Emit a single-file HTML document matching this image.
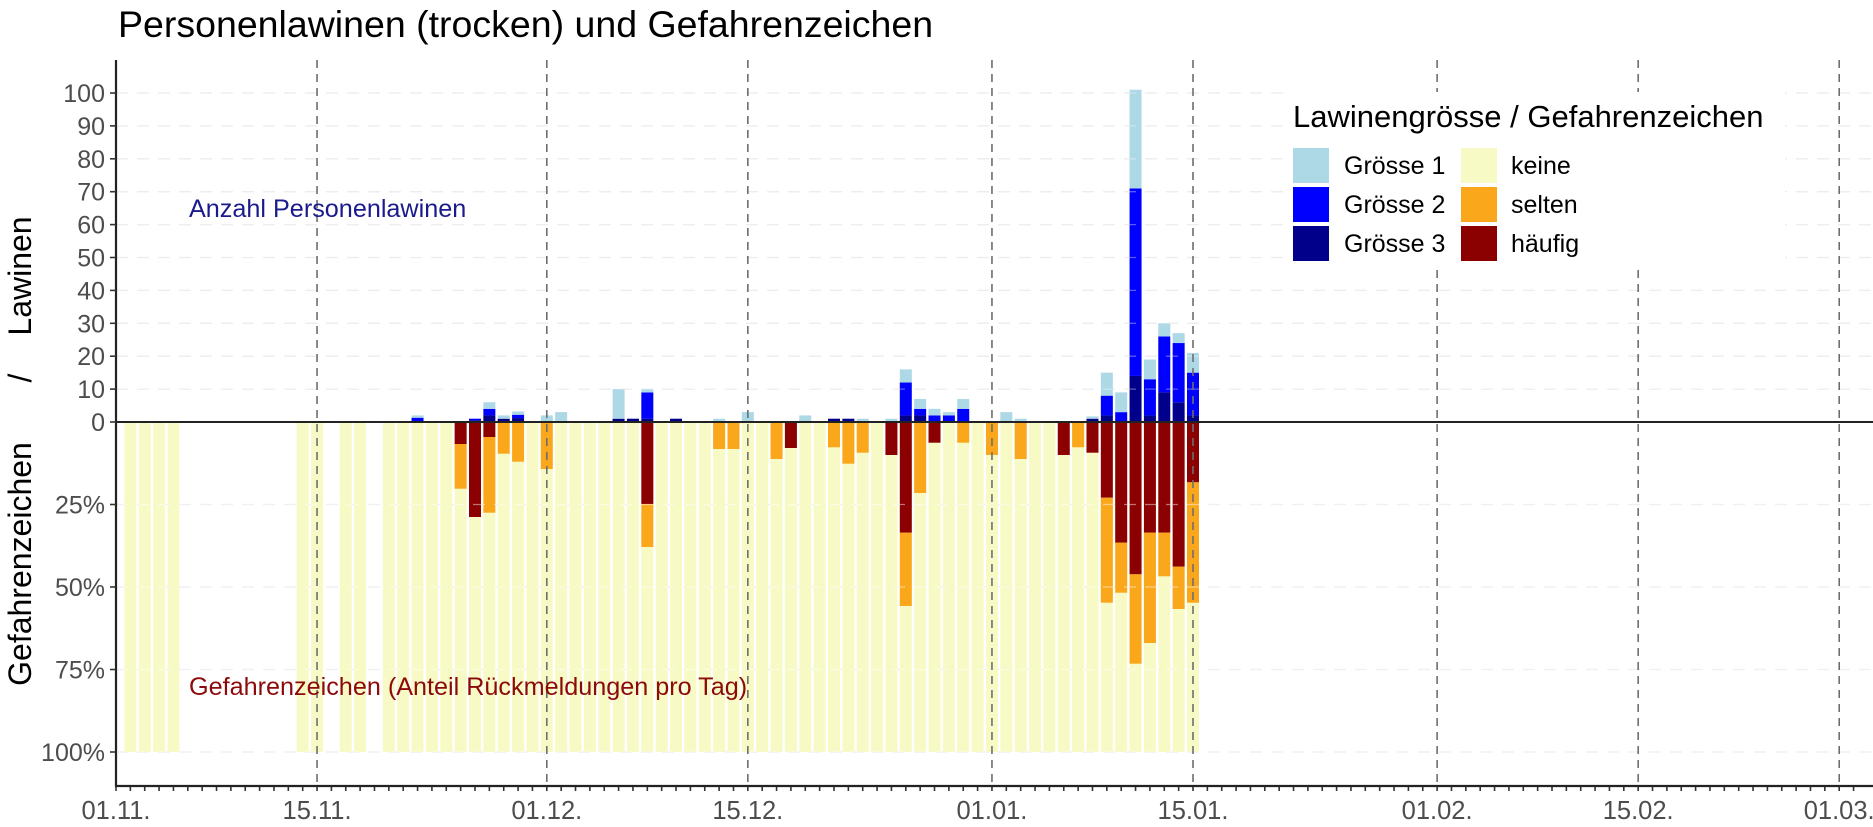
<!DOCTYPE html>
<html><head><meta charset="utf-8"><style>
html,body{margin:0;padding:0;background:#fff;}
svg{display:block;font-family:"Liberation Sans",Arial,sans-serif;}
</style></head><body>
<svg id="c" width="1873" height="827" viewBox="0 0 1873 827" xmlns="http://www.w3.org/2000/svg">
<g id="grid"></g>
<g id="bars"></g>
<g id="over"></g>
<text x="118" y="37" font-size="37.5" fill="#000">Personenlawinen (trocken) und Gefahrenzeichen</text>
<text x="189" y="217" font-size="25.2" fill="#1a1a8c">Anzahl Personenlawinen</text>
<text x="189" y="695" font-size="25.2" fill="#8b0a0a">Gefahrenzeichen (Anteil Rückmeldungen pro Tag)</text>
<text transform="translate(31,564) rotate(-90)" text-anchor="middle" font-size="32" fill="#000">Gefahrenzeichen</text>
<text transform="translate(31,378) rotate(-90)" text-anchor="middle" font-size="32" fill="#000">/</text>
<text transform="translate(31,276) rotate(-90)" text-anchor="middle" font-size="32" fill="#000">Lawinen</text>
<rect x="1285" y="92" width="500" height="176" fill="#fff"/>
<text x="1293" y="127" font-size="31" fill="#000">Lawinengrösse / Gefahrenzeichen</text>
<rect x="1293" y="148" width="36" height="35" fill="#add8e6"/>
<rect x="1293" y="187" width="36" height="35" fill="#0000ff"/>
<rect x="1293" y="226" width="36" height="35" fill="#00008b"/>
<rect x="1461" y="148" width="36" height="35" fill="#f8fac6"/>
<rect x="1461" y="187" width="36" height="35" fill="#fba71c"/>
<rect x="1461" y="226" width="36" height="35" fill="#8b0000"/>
<text x="1344" y="174" font-size="25" fill="#000">Grösse 1</text>
<text x="1344" y="213" font-size="25" fill="#000">Grösse 2</text>
<text x="1344" y="252" font-size="25" fill="#000">Grösse 3</text>
<text x="1511" y="174" font-size="25" fill="#000">keine</text>
<text x="1511" y="213" font-size="25" fill="#000">selten</text>
<text x="1511" y="252" font-size="25" fill="#000">häufig</text>
</svg>
<script>
(function(){
var NS="http://www.w3.org/2000/svg";
function el(p,t,a,txt){var e=document.createElementNS(NS,t);for(var k in a)e.setAttribute(k,a[k]);if(txt!==undefined)e.textContent=txt;document.getElementById(p).appendChild(e);return e;}
var X0=116,PD=14.36,Z=422,U=3.29,P=3.3;
function xd(d){return X0+d*PD;}
for(var v=10;v<=100;v+=10){el("grid","line",{x1:X0,x2:1873,y1:Z-v*U,y2:Z-v*U,stroke:"#e3e3e3","stroke-width":1.3,"stroke-dasharray":"12 9"});}
[25,50,75,100].forEach(function(p){el("grid","line",{x1:X0,x2:1873,y1:Z+p*P,y2:Z+p*P,stroke:"#e3e3e3","stroke-width":1.3,"stroke-dasharray":"12 9"});});
var yd=[1,2,3,4,13,14,16,17];for(var d=19;d<=75;d++)yd.push(d);
yd.forEach(function(d){el("bars","rect",{x:xd(d)-6,y:Z,width:12,height:100*P,fill:"#f8fac6"});});
var neg={24:[444,488.7],25:[517,517],26:[437,512.7],27:[422,453.7],28:[422,461.7],30:[422,469],37:[504,547],42:[422,449],43:[422,449],46:[422,459],47:[448,448],50:[422,447.3],51:[422,463.7],52:[422,452.7],54:[455,455],55:[532.7,606],56:[422,493],57:[442.7,442.7],59:[422,442.7],61:[422,455],63:[422,459],66:[455,455],67:[422,447.3],68:[452.7,452.7],69:[497.7,602.7],70:[542.7,592.7],71:[574.3,663.7],72:[532.7,643],73:[532.7,576.3],74:[566.7,609],75:[482.3,602.7]};
for(var k in neg){var r=neg[k],x=xd(+k)-6;
 if(r[0]>Z)el("bars","rect",{x:x,y:Z,width:12,height:r[0]-Z,fill:"#8b0000"});
 if(r[1]>r[0])el("bars","rect",{x:x,y:r[0],width:12,height:r[1]-r[0],fill:"#fba71c"});}
var pos={21:[0.7,1.3,0],25:[0,0.5,0.5],26:[2,2,2],27:[1,0,1],28:[1,1,1.2],30:[2,0,0],31:[3,0,0],35:[9,0,1],36:[0,0,1],37:[1,8,1],39:[0,0,1],42:[1,0,0],44:[3,0,0],48:[2,0,0],50:[0,0,1],51:[0,0,1],52:[1,0,0],54:[1,0,0],55:[4,10,2],56:[3,2,2],57:[2,2,0],58:[1,2,0],59:[3,4,0],62:[3,0,0],63:[1,0,0],68:[0.7,0,1],69:[7,6,2],70:[6,3,0],71:[30,57,14],72:[6,11,2],73:[4,17,9],74:[3,18,6],75:[6,13,2]};
for(var k in pos){var p=pos[k],x=xd(+k)-6,y=Z;
 [[p[2],"#00008b"],[p[1],"#0000ff"],[p[0],"#add8e6"]].forEach(function(s){if(s[0]>0){var h=s[0]*U;el("bars","rect",{x:x,y:y-h,width:12,height:h,fill:s[1]});y-=h;}});}
for(var v=10;v<=100;v+=10){el("over","line",{x1:X0,x2:1873,y1:Z-v*U,y2:Z-v*U,stroke:"#ffffff","stroke-opacity":0.35,"stroke-width":1.3,"stroke-dasharray":"12 9"});}
[25,50,75,100].forEach(function(p){el("over","line",{x1:X0,x2:1873,y1:Z+p*P,y2:Z+p*P,stroke:"#ffffff","stroke-opacity":0.45,"stroke-width":1.3,"stroke-dasharray":"12 9"});});
var maj=[[0,"01.11."],[14,"15.11."],[30,"01.12."],[44,"15.12."],[61,"01.01."],[75,"15.01."],[92,"01.02."],[106,"15.02."],[120,"01.03."]];
maj.forEach(function(m){var x=xd(m[0]);
 if(m[0]>0)el("over","line",{x1:x,x2:x,y1:60,y2:786,stroke:"#6e6e6e","stroke-width":1.6,"stroke-dasharray":"8 6"});
 el("over","text",{x:x,y:819,"font-size":25.5,fill:"#4d4d4d","text-anchor":"middle"},m[1]);});
for(var d=0;d<=121;d++){var x=xd(d);if(x>1872)break;el("over","line",{x1:x,x2:x,y1:786,y2:791,stroke:"#333","stroke-width":1.6});}
el("over","line",{x1:X0,x2:1873,y1:Z,y2:Z,stroke:"#222","stroke-width":2});
el("over","line",{x1:X0,x2:X0,y1:60,y2:787,stroke:"#222","stroke-width":2.2});
el("over","line",{x1:X0-1,x2:1873,y1:786,y2:786,stroke:"#222","stroke-width":2.2});
for(var v=0;v<=100;v+=10){var y=Z-v*U;el("over","line",{x1:110,x2:X0,y1:y,y2:y,stroke:"#333","stroke-width":1.6});el("over","text",{x:105,y:y+9,"font-size":25,fill:"#4d4d4d","text-anchor":"end"},""+v);}
[25,50,75,100].forEach(function(p){var y=Z+p*P;el("over","line",{x1:110,x2:X0,y1:y,y2:y,stroke:"#333","stroke-width":1.6});el("over","text",{x:105,y:y+9,"font-size":25,fill:"#4d4d4d","text-anchor":"end"},p+"%");});
})();
</script>
</body></html>
